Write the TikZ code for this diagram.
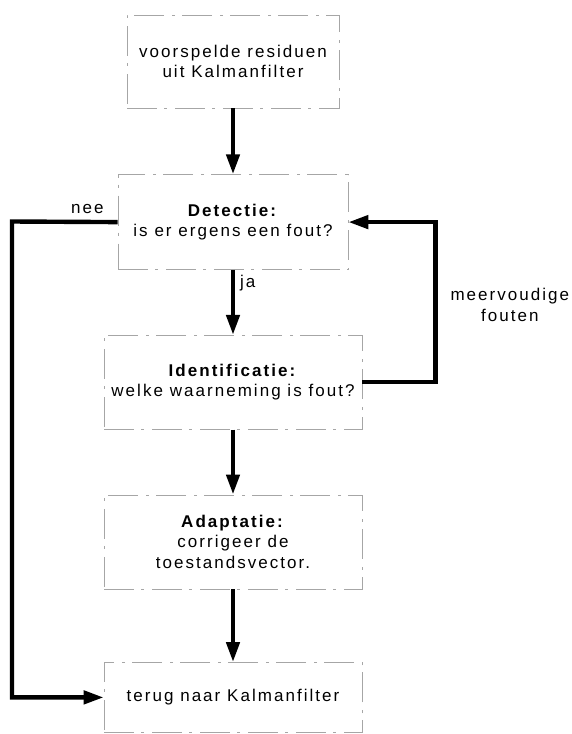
\documentclass[tikz,border=0pt]{standalone}
\usepackage{fontspec}
\setmainfont{Liberation Sans}[LetterSpace=12]
\usepackage{tikz}
\usetikzlibrary{arrows.meta,positioning}
\tikzset{
  stage/.style={draw=black!35, line width=0.6pt, dash pattern=on 30pt off 7pt on 3pt off 8pt, align=center, inner sep=3pt, font=\fontsize{17}{20.5}\selectfont},
  flow/.style={-{Triangle[length=20pt, width=13pt]}, line width=4.4pt},
  tag/.style={font=\fontsize{17}{20.5}\selectfont, inner sep=3pt, align=center}
}

\begin{document}
\begin{tikzpicture}[x=1pt, y=-1pt]
  \useasboundingbox (0,0) rectangle (572,734);
  \node[stage, minimum width=212pt, minimum height=93pt] (pred) at (233,61.5) {voorspelde residuen\\uit Kalmanfilter};
  \node[stage, below=66pt of pred, minimum width=230pt, minimum height=95pt] (det) {\textbf{Detectie:}\\is er ergens een fout?};
  \node[stage, below=65pt of det, minimum width=258pt, minimum height=94pt] (ident) {\textbf{Identificatie:}\\welke waarneming is fout?};
  \node[stage, below=65pt of ident, minimum width=258pt, minimum height=94pt] (adapt) {\textbf{Adaptatie:}\\corrigeer de\\toestandsvector.};
  \node[stage, below=73pt of adapt, minimum width=258pt, minimum height=70pt] (back) {terug naar Kalmanfilter};

  \draw[flow] (pred) -- (det);
  \draw[flow] (det) -- node[tag, pos=0.2, right=2pt] {ja} (ident);
  \draw[flow] (ident) -- (adapt);
  \draw[flow] (adapt) -- (back);
  \draw[flow] (det.west) node[tag, above left, xshift=-9pt, yshift=3pt] {nee} -- (12,221.5) |- (back.west);
  \draw[flow] (ident.east) -- ++(73,0) |- node[tag, pos=0.25, right=10pt, yshift=-3pt] {meervoudige\\fouten} (det.east);
\end{tikzpicture}
\end{document}
